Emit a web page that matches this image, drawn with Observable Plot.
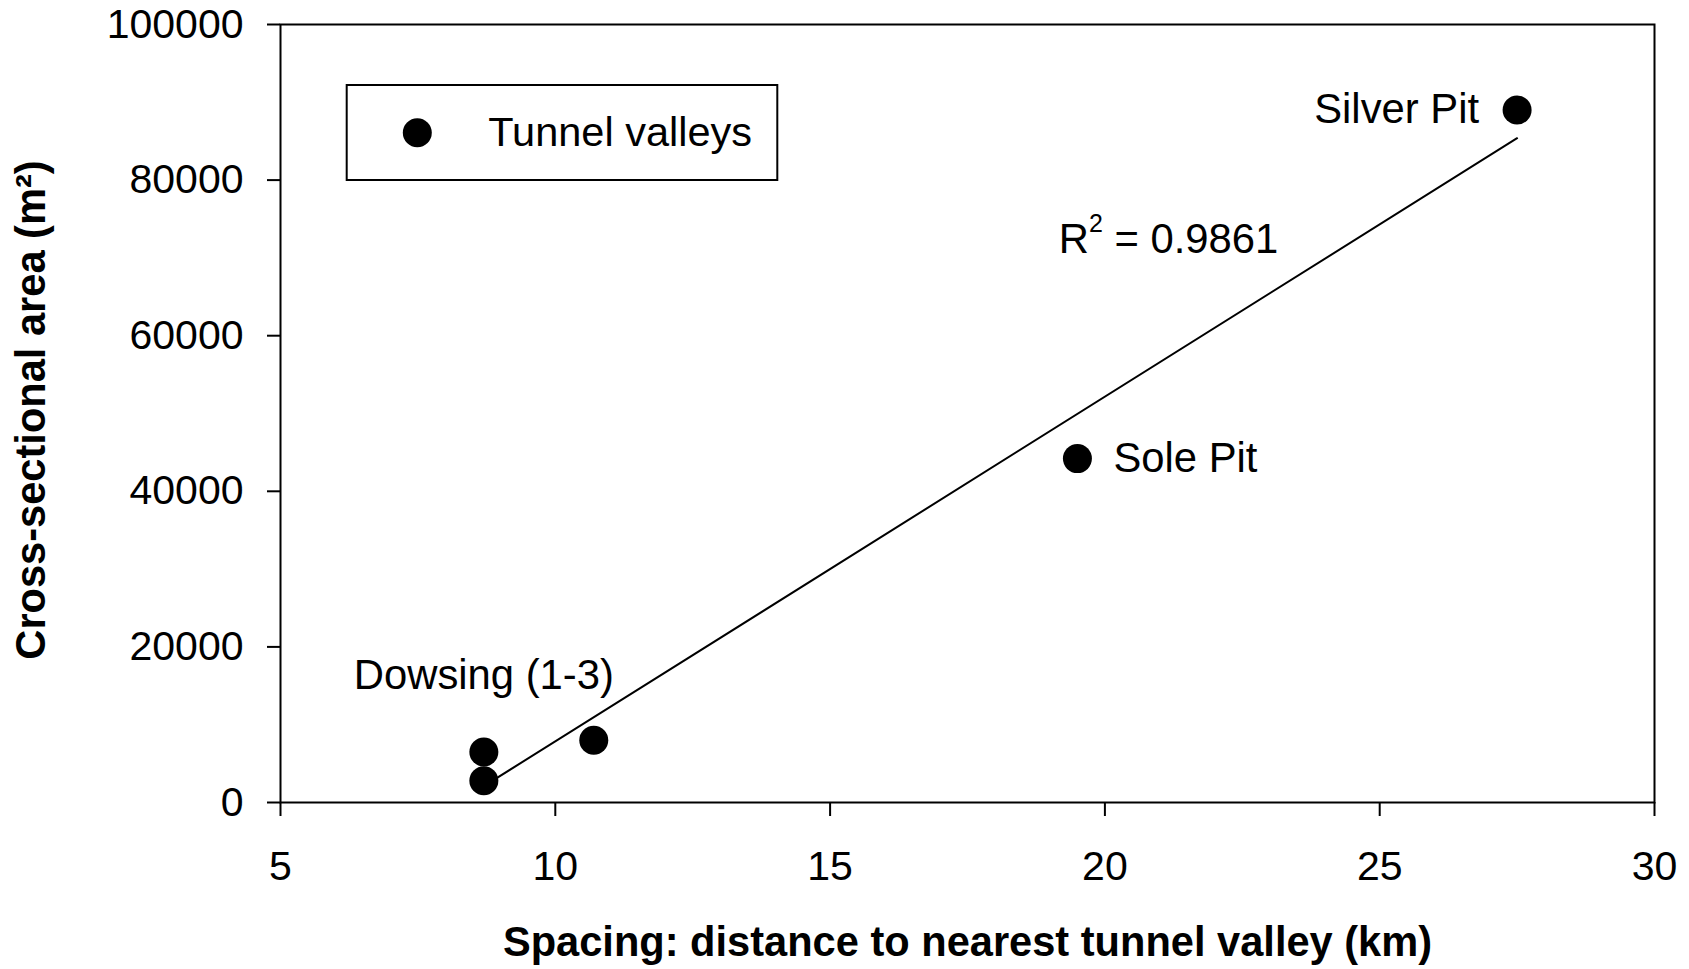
<!DOCTYPE html>
<html>
<head>
<meta charset="utf-8">
<script src="https://cdn.jsdelivr.net/npm/d3@7"></script>
<script src="https://cdn.jsdelivr.net/npm/@observablehq/plot@0.6"></script>
<style>
  html, body { margin: 0; padding: 0; background: #fff; }
  #chart { width: 1689px; height: 969px; }
</style>
</head>
<body>
<div id="chart"></div>
<script>
// ---- data ----
const valleyNames = ["Dowsing 1", "Dowsing 2", "Dowsing 3", "Sole Pit", "Silver Pit"];
const spacingKm   = [8.7, 8.7, 10.7, 19.5, 27.5];
const areaM2      = [2800, 6500, 8000, 44200, 89000];
const xTicks = [5, 10, 15, 20, 25, 30];
const yTicks = [0, 20000, 40000, 60000, 80000, 100000];
const seriesName = "Tunnel valleys";
const fitLabel = ["R² = 0.9861"];
const fitLabelSpacing = [19.16];
const fitLabelArea = [72400];
const xTitle = "Spacing: distance to nearest tunnel valley (km)";
const yTitle = "Cross-sectional area (m²)";

const data = valleyNames.map((name, i) => ({name, x: spacingKm[i], y: areaM2[i]}));
const fitText = fitLabel.map((t, i) => ({t, x: fitLabelSpacing[i], y: fitLabelArea[i]}));
const FONT = '"Liberation Sans", Arial, Helvetica, sans-serif';
const LBL = 41.8;

const plot = Plot.plot({
  width: 1689,
  height: 969,
  marginLeft: 280,
  marginRight: 35,
  marginTop: 24,
  marginBottom: 167,
  style: {fontFamily: FONT, fontSize: "41px", background: "#fff", color: "#000", overflow: "visible"},
  x: {domain: [5, 30]},
  y: {domain: [0, 100000]},
  marks: [
    Plot.frame({stroke: "#000", strokeWidth: 2}),
    Plot.axisX({ticks: xTicks, tickSize: 14, tickPadding: 34, fontSize: 41, strokeWidth: 2, label: null, tickFormat: d => String(d)}),
    Plot.axisY({ticks: yTicks, tickSize: 13, tickPadding: 24, fontSize: 41, strokeWidth: 2, label: null, tickFormat: d => String(d)}),
    Plot.linearRegressionY(data, {x: "x", y: "y", ci: 0, stroke: "#000", strokeWidth: 2}),
    Plot.dot(data, {x: "x", y: "y", r: 14.5, fill: "#000", stroke: null}),
    Plot.text(data.filter(d => d.name === "Silver Pit"), {x: "x", y: "y", text: () => "Silver Pit", textAnchor: "end", lineAnchor: "middle", dx: -38, dy: 0, fontSize: LBL}),
    Plot.text(data.filter(d => d.name === "Sole Pit"), {x: "x", y: "y", text: () => "Sole Pit", textAnchor: "start", lineAnchor: "middle", dx: 36, dy: 0, fontSize: LBL}),
    Plot.text(data.filter(d => d.name === "Dowsing 2"), {x: "x", y: "y", text: () => "Dowsing (1-3)", textAnchor: "middle", lineAnchor: "middle", dy: -76, fontSize: LBL}),
    Plot.text(fitText, {x: "x", y: "y", text: "t", textAnchor: "start", lineAnchor: "middle", fontSize: LBL}),
    Plot.text([xTitle], {frameAnchor: "bottom", text: d => d, lineAnchor: "middle", dy: 140, fontSize: 41.6, fontWeight: "bold"})
  ]
});

const svg = d3.select(plot);

// R² label: render the 2 as a real superscript
svg.selectAll("text").filter(function() { return this.textContent === fitLabel[0]; }).each(function() {
  const t = d3.select(this);
  t.text(null);
  t.append("tspan").text("R");
  t.append("tspan").attr("font-size", 25).attr("dy", -21).text("2");
  t.append("tspan").attr("dy", 21).text(" = 0.9861");
});

// y-axis title (rotated)
svg.append("text")
  .attr("transform", "translate(32,410) rotate(-90)")
  .attr("text-anchor", "middle")
  .attr("dy", "0.32em")
  .attr("font-size", 41.6)
  .attr("font-weight", "bold")
  .attr("font-family", FONT)
  .attr("fill", "#000")
  .text(yTitle);

// legend box drawn inside the plot area
const lg = svg.append("g").attr("aria-label", "legend");
lg.append("rect").attr("x", 346.7).attr("y", 85).attr("width", 430.6).attr("height", 95)
  .attr("fill", "#fff").attr("stroke", "#000").attr("stroke-width", 2);
lg.append("circle").attr("cx", 417.3).attr("cy", 132.7).attr("r", 14.5).attr("fill", "#000");
lg.append("text").attr("x", 488.3).attr("y", 146).attr("font-size", 41.5)
  .attr("text-anchor", "start")
  .attr("font-family", FONT).attr("fill", "#000").text(seriesName);

document.getElementById("chart").appendChild(plot);
</script>
</body>
</html>
